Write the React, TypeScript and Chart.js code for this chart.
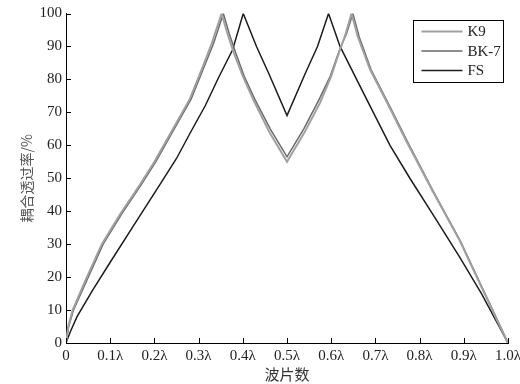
import React, { useEffect, useRef } from 'react';
import { Chart, registerables } from 'chart.js';

Chart.register(...registerables);

// ---- data ----
const xTickValues = [0, 0.1, 0.2, 0.3, 0.4, 0.5, 0.6, 0.7, 0.8, 0.9, 1.0];
const xTickLabels = ['0', '0.1λ', '0.2λ', '0.3λ', '0.4λ', '0.5λ', '0.6λ', '0.7λ', '0.8λ', '0.9λ', '1.0λ'];
const yTickValues = [0, 10, 20, 30, 40, 50, 60, 70, 80, 90, 100];

const seriesNames = ['K9', 'BK-7', 'FS'];

const k9X = [0, 0.005, 0.015, 0.044, 0.081, 0.122, 0.167, 0.2, 0.24, 0.28, 0.31, 0.33, 0.352, 0.365, 0.38, 0.4, 0.425, 0.46, 0.5, 0.54, 0.575, 0.6, 0.62, 0.633, 0.646, 0.66, 0.688, 0.73, 0.771, 0.83, 0.891, 0.94, 0.982, 1.0];
const k9Y = [0, 5, 10, 19, 30, 39, 48, 55, 64.5, 74, 84, 91, 100, 94, 88, 81, 73.5, 64, 55, 64, 73, 81, 89, 94, 100, 93, 83, 72, 61, 46, 31, 17, 5, 0];

const bk7X = [0, 0.006, 0.017, 0.047, 0.084, 0.125, 0.17, 0.203, 0.243, 0.283, 0.313, 0.334, 0.356, 0.369, 0.384, 0.403, 0.427, 0.462, 0.5, 0.538, 0.573, 0.598, 0.619, 0.635, 0.649, 0.663, 0.69, 0.732, 0.773, 0.831, 0.892, 0.941, 0.983, 1.0];
const bk7Y = [0, 5, 10, 19, 30, 39, 48, 55, 64.5, 74, 84, 91, 100, 94, 88, 81, 74, 65, 56.5, 65, 74, 81, 89, 94, 100, 93, 83, 72, 61, 46, 31, 17, 5, 0];

const fsX = [0, 0.01, 0.025, 0.06, 0.1, 0.15, 0.212, 0.25, 0.28, 0.315, 0.345, 0.377, 0.401, 0.431, 0.458, 0.5, 0.542, 0.569, 0.594, 0.62, 0.68, 0.733, 0.778, 0.835, 0.891, 0.94, 0.982, 1.0];
const fsY = [0, 3.5, 8, 16, 24.5, 35, 48, 56, 63.5, 72, 80.5, 89, 100, 90, 82, 69, 82, 90, 100, 90, 74, 60, 50, 38, 26, 15, 4.5, 0];

const seriesColors = ['#a0a0a0', '#6a6a6a', '#1c1c1c'];
const seriesWidths = [2, 1.5, 1.5];

const serif = "'Liberation Serif', 'Times New Roman', serif";
const cjk = "'Noto Sans CJK SC', sans-serif";

const toPoints = (xs: number[], ys: number[]) => xs.map((x, i) => ({ x, y: ys[i] }));

const tickMarksPlugin = {
  id: 'tickMarks',
  afterDraw(chart: any) {
    const { ctx, chartArea, scales } = chart;
    ctx.save();
    ctx.strokeStyle = '#000';
    ctx.lineWidth = 1;
    ctx.beginPath();
    yTickValues.forEach((v) => {
      const y = Math.round(scales.y.getPixelForValue(v)) + 0.5;
      ctx.moveTo(chartArea.left, y);
      ctx.lineTo(chartArea.left + 5, y);
    });
    xTickValues.forEach((v) => {
      const x = Math.round(scales.x.getPixelForValue(v)) + 0.5;
      ctx.moveTo(x, chartArea.bottom);
      ctx.lineTo(x, chartArea.bottom - 5);
    });
    ctx.stroke();
    ctx.restore();
  },
};

const legendBoxPlugin = {
  id: 'legendBox',
  afterDraw(chart: any) {
    const { ctx, chartArea } = chart;
    const w = 90;
    const h = 62;
    const left = Math.round(chartArea.right - 5 - w) + 0.5;
    const top = Math.round(chartArea.top + 6) + 0.5;
    ctx.save();
    ctx.fillStyle = '#fff';
    ctx.fillRect(left, top, w, h);
    ctx.strokeStyle = '#000';
    ctx.lineWidth = 1;
    ctx.strokeRect(left, top, w, h);
    chart.data.datasets.forEach((ds: any, i: number) => {
      const y = top + 11 + i * 19.5;
      ctx.strokeStyle = ds.borderColor;
      ctx.lineWidth = ds.borderWidth;
      ctx.beginPath();
      ctx.moveTo(left + 8, y);
      ctx.lineTo(left + 49, y);
      ctx.stroke();
      ctx.fillStyle = '#222';
      ctx.font = `15px ${serif}`;
      ctx.textBaseline = 'middle';
      ctx.textAlign = 'left';
      ctx.fillText(ds.label, left + 54, y + 1);
    });
    ctx.restore();
  },
};

export default function App() {
  const canvasRef = useRef<HTMLCanvasElement | null>(null);

  useEffect(() => {
    if (!canvasRef.current) return;
    const allX = [k9X, bk7X, fsX];
    const allY = [k9Y, bk7Y, fsY];
    const chart = new Chart(canvasRef.current, {
      type: 'line',
      data: {
        datasets: seriesNames.map((name, i) => ({
          label: name,
          data: toPoints(allX[i], allY[i]),
          borderColor: seriesColors[i],
          backgroundColor: seriesColors[i],
          borderWidth: seriesWidths[i],
          pointRadius: 0,
          tension: 0,
          fill: false,
        })),
      },
      options: {
        responsive: false,
        animation: false,
        devicePixelRatio: 1,
        layout: { padding: { top: 13.5, right: 12, left: 0, bottom: 0 } },
        plugins: {
          legend: { display: false },
          tooltip: { enabled: false },
        },
        scales: {
          x: {
            type: 'linear',
            min: 0,
            max: 1,
            grid: { display: false, drawTicks: false },
            border: { display: true, color: '#000', width: 1 },
            afterBuildTicks: (scale: any) => {
              scale.ticks = xTickValues.map((v) => ({ value: v }));
            },
            afterFit: (scale: any) => {
              scale.height = 41;
              scale.paddingLeft = 0;
              scale.paddingRight = 0;
            },
            ticks: {
              autoSkip: false,
              maxRotation: 0,
              padding: 4,
              color: '#222',
              font: { family: serif, size: 15 },
              callback: (_v: any, i: number) => xTickLabels[i],
            },
            title: {
              display: true,
              text: '波片数',
              color: '#333',
              font: { family: cjk, size: 15 },
              padding: { top: 0, bottom: 1 },
            },
          },
          y: {
            type: 'linear',
            min: 0,
            max: 100,
            grid: { display: false, drawTicks: false },
            border: { display: true, color: '#000', width: 1 },
            afterBuildTicks: (scale: any) => {
              scale.ticks = yTickValues.map((v) => ({ value: v }));
            },
            afterFit: (scale: any) => {
              scale.width = 66;
              scale.paddingTop = 0;
              scale.paddingBottom = 0;
            },
            ticks: {
              padding: 4,
              color: '#222',
              font: { family: serif, size: 15 },
              callback: (v: any) => String(v),
            },
            title: {
              display: true,
              text: '耦合透过率/%',
              color: '#555',
              font: { family: cjk, size: 14 },
              padding: { top: 18, bottom: 0 },
            },
          },
        },
      },
      plugins: [tickMarksPlugin, legendBoxPlugin],
    } as any);
    return () => chart.destroy();
  }, []);

  return (
    <div style={{ position: 'absolute', left: 0, top: 0, width: 520, height: 384, background: '#fff' }}>
      <canvas ref={canvasRef} width={520} height={384} style={{ display: 'block' }} />
    </div>
  );
}
